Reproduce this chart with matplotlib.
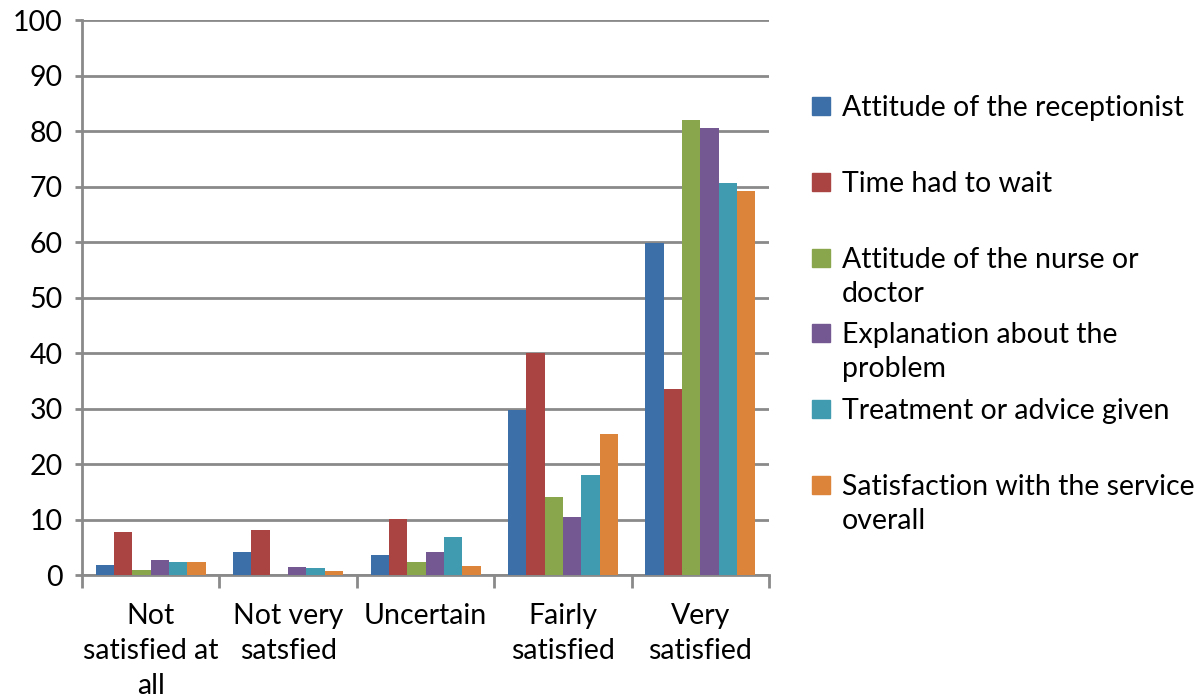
import matplotlib.pyplot as plt
import numpy as np

# categories and series
categories = ['Not\nsatisfied at\nall', 'Not very\nsatsfied', 'Uncertain', 'Fairly\nsatisfied', 'Very\nsatisfied']
series_names = ['Attitude of the receptionist', 'Time had to wait', 'Attitude of the nurse or\ndoctor',
                'Explanation about the\nproblem', 'Treatment or advice given', 'Satisfaction with the service\noverall']
receptionist = [1.8, 4.2, 3.7, 29.8, 59.9]
wait_time = [7.7, 8.1, 10.1, 40.0, 33.5]
nurse_doctor = [1.0, 0.0, 2.4, 14.0, 82.1]
explanation = [2.8, 1.5, 4.2, 10.4, 80.5]
treatment = [2.4, 1.3, 6.9, 18.1, 70.7]
overall = [2.4, 0.8, 1.6, 25.4, 69.3]
all_series = [receptionist, wait_time, nurse_doctor, explanation, treatment, overall]
colors = ['#3C6FA8', '#A94442', '#8AA64D', '#735891', '#409AB0', '#DB843A']

plt.rcParams['font.family'] = ['Lato', 'DejaVu Sans']
fs = 20.5
fig = plt.figure(figsize=(11.95, 6.98), dpi=100)
ax = fig.add_axes([0.0686, 0.176, 0.575, 0.795])

x = np.arange(len(categories))
w = 0.8 / len(all_series)
for i, (vals, c) in enumerate(zip(all_series, colors)):
    ax.bar(x - 0.4 + w * (i + 0.5), vals, w, color=c, zorder=3)

ax.set_xlim(-0.5, len(categories) - 0.5)
ax.set_ylim(0, 100)
ax.set_yticks(range(0, 101, 10))
ax.yaxis.grid(True, color='#8a8a8a', linewidth=2, zorder=0)
ax.set_xticks(np.arange(-0.5, len(categories)), minor=False)
ax.set_xticklabels([])
ax.set_xticks(x, minor=True)
ax.set_xticklabels(categories, minor=True, fontsize=fs, linespacing=1.42)
ax.tick_params(axis='x', which='minor', length=0, pad=20)
ax.tick_params(axis='x', which='major', length=9, width=2, color='#8a8a8a')
ax.tick_params(axis='y', length=5, width=2, color='#8a8a8a', labelsize=fs, pad=9)
for s in ['top', 'right']:
    ax.spines[s].set_visible(False)
for s in ['left', 'bottom']:
    ax.spines[s].set_color('#8a8a8a')
    ax.spines[s].set_linewidth(2)

# legend drawn by hand so the square sits beside the first line
y0 = 106
for i, (name, c) in enumerate(zip(series_names, colors)):
    yc = y0 + 75.8 * i
    fig.patches.append(plt.Rectangle((812 / 1195, 1 - (yc + 9) / 698), 18 / 1195, 18 / 698,
                                     transform=fig.transFigure, color=c))
    fig.text(842 / 1195, 1 - (yc - 11) / 698, name, fontsize=fs, va='top', ha='left', linespacing=1.38)

fig.savefig('out.png', dpi=100)
